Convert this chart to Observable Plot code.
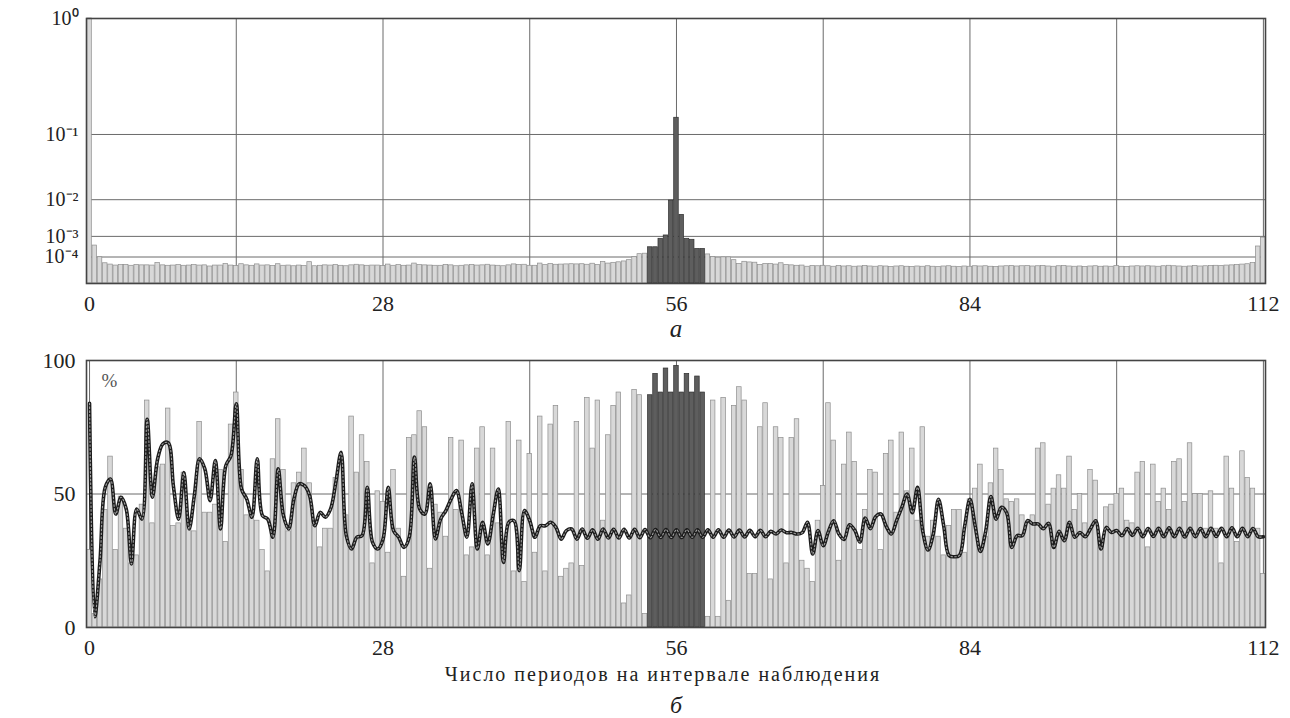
<!DOCTYPE html>
<html><head><meta charset="utf-8">
<script src="https://cdn.jsdelivr.net/npm/d3@7"></script>
<script src="https://cdn.jsdelivr.net/npm/@observablehq/plot@0.6"></script>
<style>
body{margin:0;background:#fff;}
svg{display:block;}
svg, svg text { font-family: "Liberation Serif", "Times New Roman", serif !important; }
</style></head><body><div id="chart"></div>
<script>
// ---- data ----
const step = 0.5; // bar spacing along "number of periods"
const highlightFrom = 53.5, highlightTo = 58.5;

// panel а: normalized spectrum (power scale 1/4)
const spectrum = [
 1, 4.2e-4, 9.7e-5, 3.4e-5, 2.6e-5, 2.1e-5, 2.3e-5, 2.4e-5, 2.0e-5, 2.3e-5,
 2.2e-5, 2.2e-5, 2.1e-5, 3.6e-5, 2.2e-5, 2.0e-5, 2.1e-5, 2.3e-5, 2.0e-5, 2.1e-5,
 2.3e-5, 2.1e-5, 2.2e-5, 1.7e-5, 2.1e-5, 2.1e-5, 2.9e-5, 2.1e-5, 1.9e-5, 2.8e-5,
 2.2e-5, 2.0e-5, 2.7e-5, 2.1e-5, 2.2e-5, 1.9e-5, 2.8e-5, 2.0e-5, 2.1e-5, 1.8e-5,
 2.1e-5, 1.9e-5, 4.2e-5, 1.8e-5, 2.0e-5, 2.2e-5, 2.1e-5, 2.3e-5, 2.0e-5, 1.8e-5,
 2.2e-5, 2.5e-5, 2.2e-5, 2.0e-5, 2.1e-5, 2.1e-5, 1.9e-5, 2.6e-5, 2.0e-5, 2.3e-5,
 2.0e-5, 2.1e-5, 3.2e-5, 2.3e-5, 2.2e-5, 2.1e-5, 2.0e-5, 2.0e-5, 2.4e-5, 2.2e-5,
 1.8e-5, 2.0e-5, 2.2e-5, 2.4e-5, 2.1e-5, 2.2e-5, 2.5e-5, 2.1e-5, 2.0e-5, 1.8e-5,
 2.2e-5, 2.7e-5, 2.3e-5, 2.5e-5, 2.0e-5, 2.0e-5, 3.2e-5, 2.3e-5, 2.9e-5, 2.5e-5,
 2.6e-5, 2.7e-5, 2.8e-5, 2.7e-5, 2.8e-5, 2.5e-5, 3.1e-5, 2.4e-5, 4.4e-5, 3.2e-5,
 3.7e-5, 4.1e-5, 4.8e-5, 6.0e-5, 1.0e-4, 1.5e-4, 1.6e-4,
 3.5e-4, 3.5e-4, 8.1e-4, 1.08e-3, 9.6e-3, 0.153, 4.5e-3, 8.1e-4, 7.4e-4, 2.9e-4, 2.9e-4,
 1.45e-4, 1.0e-4, 9.0e-5, 9.5e-5, 9.5e-5, 6.0e-5, 3.0e-5, 4.5e-5, 4.0e-5, 3.8e-5, 2.4e-5, 3.0e-5,
 3.0e-5, 2.6e-5, 3.4e-5, 2.4e-5, 2.2e-5, 2.0e-5, 2.1e-5, 1.6e-5, 1.9e-5, 1.8e-5,
 2.0e-5, 1.8e-5, 1.6e-5, 1.9e-5, 1.7e-5, 1.8e-5, 1.6e-5, 1.7e-5, 1.9e-5, 1.7e-5,
 1.6e-5, 1.8e-5, 1.7e-5, 1.5e-5, 1.7e-5, 1.8e-5, 1.6e-5, 1.5e-5, 1.7e-5, 1.6e-5,
 1.8e-5, 1.6e-5, 1.5e-5, 1.7e-5, 1.8e-5, 1.6e-5, 1.5e-5, 1.7e-5, 1.6e-5, 1.8e-5,
 1.7e-5, 1.8e-5, 1.6e-5, 1.5e-5, 1.7e-5, 1.8e-5, 1.9e-5, 1.7e-5, 1.8e-5, 1.9e-5,
 1.7e-5, 1.8e-5, 1.9e-5, 1.7e-5, 1.6e-5, 1.8e-5, 1.9e-5, 1.7e-5, 1.6e-5, 1.7e-5,
 1.5e-5, 1.7e-5, 1.8e-5, 1.6e-5, 1.7e-5, 1.6e-5, 1.9e-5, 1.6e-5, 1.5e-5, 1.7e-5,
 1.8e-5, 1.7e-5, 1.8e-5, 1.7e-5, 1.6e-5, 1.8e-5, 2.0e-5, 1.8e-5, 1.7e-5, 1.6e-5,
 1.7e-5, 1.9e-5, 1.7e-5, 1.8e-5, 1.9e-5, 2.0e-5, 1.9e-5, 2.1e-5, 2.2e-5, 2.4e-5,
 2.6e-5, 2.8e-5, 3.5e-5, 3.8e-4, 9.0e-4
];

// panel б: percent bars
const percent = [
 29, 5, 18, 44, 64, 29, 49, 37, 24, 27,
 46, 85, 39, 60, 61, 82, 38, 39, 58, 40,
 36, 77, 43, 43, 46, 59, 32, 76, 88, 59,
 42, 43, 40, 29, 21, 63, 78, 59, 36, 54,
 58, 67, 54, 38, 30, 37, 37, 56, 61, 42,
 79, 58, 72, 62, 24, 51, 47, 28, 59, 37,
 19, 71, 72, 81, 75, 22, 46, 43, 34, 71,
 44, 70, 27, 30, 67, 75, 27, 67, 39, 28,
 77, 21, 70, 17, 65, 28, 79, 21, 76, 83,
 19, 22, 24, 77, 23, 86, 67, 85, 40, 72,
 83, 88, 9, 12, 89, 87, 5,
 87, 95, 88, 97, 88, 98, 88, 95, 88, 94, 88,
 4, 85, 4, 86, 10, 83, 90, 85, 20, 20, 75, 84,
 18, 75, 71, 24, 71, 78, 25, 22, 17, 40,
 53, 84, 70, 25, 61, 73, 62, 29, 44, 59,
 58, 29, 65, 70, 43, 73, 51, 67, 40, 75,
 34, 40, 34, 27, 38, 44, 44, 28, 48, 52,
 61, 34, 54, 67, 59, 48, 47, 48, 42, 39,
 42, 67, 69, 46, 52, 57, 52, 64, 44, 50,
 39, 59, 55, 30, 45, 46, 50, 52, 40, 39,
 58, 62, 30, 61, 47, 52, 44, 62, 63, 47,
 69, 50, 50, 37, 51, 37, 24, 64, 52, 32,
 66, 56, 52, 37, 20
];

// panel б: dotted curve
const trend = [
 84, 4, 25, 52.5, 55.6, 42.5, 48.8, 44.4, 23.8, 44.4,
 40.6, 78, 48.8, 63.2, 68.8, 69.2, 53, 40.6, 58, 36.9,
 49.4, 63.2, 59.4, 47.5, 62.5, 36.9, 60.6, 64.4, 83.8, 51.9,
 48.1, 41.3, 63.2, 41.9, 40.6, 33.8, 59.4, 41.9, 36.9, 48.1,
 53.8, 53.1, 49.4, 38.1, 43.1, 41.3, 44.4, 54.4, 65.6, 34.4,
 29.4, 33.8, 34.4, 52.5, 31.9, 29.4, 33, 52.5, 36.3, 33.8,
 30, 33.8, 63.8, 44.4, 42.5, 53.8, 33.2, 40.6, 43.8, 48.1,
 51.3, 43.1, 33.8, 53.8, 29.4, 39.4, 31.3, 41.9, 51.9, 24.4,
 39.4, 40, 21.3, 43.8, 40, 33.8, 38.1, 38.1, 39.4, 37.5,
 33.1, 36.3, 36.9, 33.1, 36.9, 33.4, 36.6, 33.1, 36.9, 33.5,
 36.8, 33.5, 36.8, 33.5, 36.8, 33.6, 36.7, 33.6, 36.7, 33.7,
 36.7, 33.7, 36.6, 33.7, 36.6, 33.8, 36.6, 33.8, 36.6, 33.8,
 36.6, 33.8, 36.5, 33.9, 36.5, 33.9, 36.4, 34, 36.4, 34,
 36, 35, 36.5, 35.5, 35.6, 35, 35.5, 39.4, 27.5, 36.3,
 30.6, 36, 40, 35, 33, 38.5, 36.5, 32, 41, 37,
 41.5, 42.5, 38, 35, 40, 45, 50, 43, 52.5, 36,
 29, 35, 48, 38, 27, 26.5, 27, 38, 48, 38,
 28.5, 36, 49, 40.6, 45, 43, 30, 34.4, 34.4, 40,
 38.8, 38.8, 37, 39, 30, 36, 32.5, 39.4, 33.8, 35.6,
 34, 37, 40, 29.4, 37.5, 35.6, 36.3, 34.4, 37.1, 34.5,
 37.2, 34, 37.1, 34.1, 37.2, 34, 37.3, 34, 37.2, 33.9,
 37.2, 34, 37.1, 34, 37.2, 34.1, 37.2, 34, 37.3, 34,
 37.2, 34, 37.1, 34, 34
];

const xTicks = [0, 28, 56, 84, 112];
const xGrid = [0, 14, 28, 42, 56, 70, 84, 98, 112];
const yTicksA = [1e-4, 1e-3, 1e-2, 1e-1, 1];
const yTickLabelsA = ["10\u207B\u2074", "10\u207B\u00B3", "10\u207B\u00B2", "10\u207B\u00B9", "10\u2070"];
const yTicksB = [0, 50, 100];
const yGridB = [50];
const xLabel = "Число периодов на интервале наблюдения";
const panelA = "а", panelB = "б", unitB = "%";

// ---- drawing ----
const serif = "Liberation Serif";
const W = 1290;
const xDomain = [-0.29, 112.2];
const half = step / 2;
const isHi = x => x >= highlightFrom && x <= highlightTo;

const rowsA = spectrum.map((v, i) => ({x: i * step, v}));
const rowsB = percent.map((v, i) => ({x: i * step, v}));
const rowsL = trend.map((v, i) => ({x: i * step, v}));

const lightBar = {x1: d => d.x - half, x2: d => d.x + half, y: "v", fill: "#d8d8d8", stroke: "#8e8e8e", strokeWidth: 0.7, insetLeft: 0.35, insetRight: 0.35};
const darkBar = {x1: d => d.x - half, x2: d => d.x + half, y: "v", fill: "#5e5e5e", stroke: "#2f2f2f", strokeWidth: 0.7, insetLeft: 0.35, insetRight: 0.35};
const gridStyle = {stroke: "#6a6a6a", strokeOpacity: 1, strokeWidth: 1};

const chartA = Plot.plot({
  width: W, height: 340,
  marginTop: 18, marginBottom: 57, marginLeft: 86, marginRight: 25,
  style: {fontFamily: serif, fontSize: "22px", color: "#222", background: "white"},
  x: {domain: xDomain},
  y: {type: "pow", exponent: 0.25, domain: [0, 1]},
  marks: [
    Plot.gridX(xGrid, gridStyle),
    Plot.gridY(yTicksA, gridStyle),
    Plot.rectY(rowsA.filter(d => !isHi(d.x)), lightBar),
    Plot.rectY(rowsA.filter(d => isHi(d.x)), darkBar),
    Plot.axisX(xTicks, {tickSize: 0, tickPadding: 12, fontSize: 22, label: null}),
    Plot.axisY(yTicksA, {tickSize: 0, tickPadding: 8, fontSize: 20, label: null,
      tickFormat: d => yTickLabelsA[yTicksA.indexOf(d)]}),
    Plot.frame({stroke: "#444", strokeWidth: 1.6}),
    Plot.text([panelA], {text: d => d, frameAnchor: "bottom", lineAnchor: "middle", dy: 45, fontSize: 25, fontStyle: "italic"})
  ]
});

const chartB = Plot.plot({
  width: W, height: 378,
  marginTop: 20, marginBottom: 91, marginLeft: 86, marginRight: 25,
  style: {fontFamily: serif, fontSize: "22px", color: "#222", background: "white"},
  x: {domain: xDomain},
  y: {domain: [0, 100]},
  marks: [
    Plot.gridX(xGrid, gridStyle),
    Plot.gridY(yGridB, gridStyle),
    Plot.rectY(rowsB.filter(d => !isHi(d.x)), lightBar),
    Plot.rectY(rowsB.filter(d => isHi(d.x)), darkBar),
    Plot.line(rowsL, {x: "x", y: "v", stroke: "#1c1c1c", strokeWidth: 3.6, curve: "catmull-rom"}),
    Plot.line(rowsL, {x: "x", y: "v", stroke: "#a0a0a0", strokeWidth: 1.1, strokeDasharray: "1.6,2.2", curve: "catmull-rom"}),
    Plot.axisX(xTicks, {tickSize: 0, tickPadding: 12, fontSize: 22, label: null}),
    Plot.axisY(yTicksB, {tickSize: 0, tickPadding: 11, fontSize: 22, label: null}),
    Plot.frame({stroke: "#444", strokeWidth: 1.6}),
    Plot.text([unitB], {text: d => d, frameAnchor: "top-left", textAnchor: "middle", lineAnchor: "middle", dx: 23, dy: 20, fontSize: 19, fill: "#555"}),
    Plot.text([xLabel], {text: d => d, frameAnchor: "bottom", lineAnchor: "middle", dx: -13, dy: 47, fontSize: 20}),
    Plot.text([panelB], {text: d => d, frameAnchor: "bottom", lineAnchor: "middle", dy: 78, fontSize: 24, fontStyle: "italic"})
  ]
});

const root = document.getElementById("chart");
root.appendChild(chartA);
root.appendChild(chartB);
d3.select(chartB).selectAll("text").filter(function() { return this.textContent === xLabel; })
  .attr("letter-spacing", "2px");
</script></body></html>
